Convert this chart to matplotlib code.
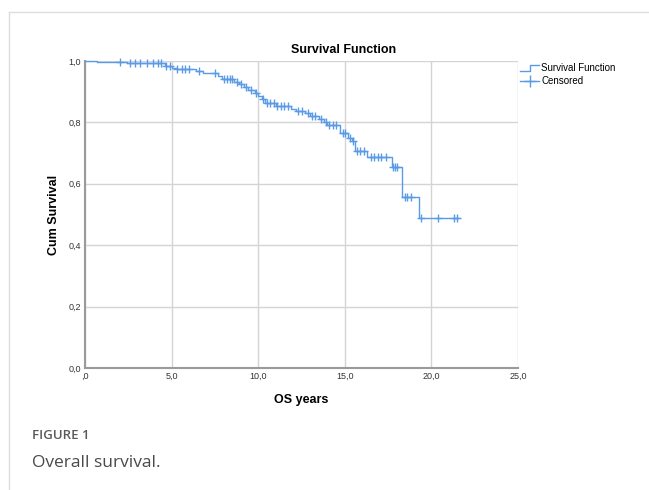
import numpy as np
import matplotlib
matplotlib.use("Agg")
from matplotlib import pyplot as plt
from matplotlib.lines import Line2D

# Kaplan-Meier steps (time in years, survival after the drop)
step_t = [0.0, 0.7, 2.4, 4.6, 5.0, 5.3, 6.4, 6.8, 7.7, 7.9, 8.6, 8.9, 9.2, 9.4,
          9.8, 10.0, 10.2, 10.4, 11.0, 11.9, 12.2, 12.7, 13.0, 13.5, 13.8, 14.0,
          14.7, 15.2, 15.4, 15.6, 16.3, 17.7, 18.3, 19.3]
step_s = [1.0, 0.997, 0.993, 0.985, 0.978, 0.974, 0.967, 0.962, 0.950, 0.941,
          0.933, 0.925, 0.915, 0.905, 0.895, 0.885, 0.875, 0.862, 0.855, 0.845,
          0.838, 0.830, 0.822, 0.812, 0.800, 0.790, 0.765, 0.750, 0.738, 0.708,
          0.688, 0.655, 0.558, 0.487]
last_t = 21.6

# censored observations (years)
cens_t = [2.0, 2.6, 2.9, 3.2, 3.6, 3.9, 4.2, 4.4, 4.7, 4.9, 5.3, 5.6, 5.8, 6.0,
          6.6, 7.5, 8.0, 8.2, 8.4, 8.5, 8.8, 9.0, 9.3, 9.6, 9.9, 10.3, 10.5, 10.7,
          10.9, 11.1, 11.3, 11.5, 11.7, 12.3, 12.5, 12.9, 13.1, 13.3, 13.6, 13.9,
          14.1, 14.3, 14.5, 14.9, 15.0, 15.3, 15.5, 15.7, 15.9, 16.1, 16.5, 16.7,
          16.9, 17.1, 17.4, 17.8, 17.9, 18.0, 18.5, 18.6, 18.8, 19.4, 20.4, 21.3,
          21.5]

x_ticks = [0, 5, 10, 15, 20, 25]
x_labels = [",0", "5,0", "10,0", "15,0", "20,0", "25,0"]
y_ticks = [0, 0.2, 0.4, 0.6, 0.8, 1.0]
y_labels = ["0,0", "0,2", "0,4", "0,6", "0,8", "1,0"]

blue = "#5b9be6"
plt.rcParams["font.family"] = ["Liberation Sans", "DejaVu Sans"]

fig = plt.figure(figsize=(6.49, 4.90), dpi=100)
ax = fig.add_axes([85/649, 1-368/490, (518-85)/649, (368-61)/490])

# survival curve
tt = step_t + [last_t]
ss = step_s + [step_s[-1]]
ax.step(tt, ss, where="post", color=blue, lw=1.0, clip_on=False, zorder=3)

# censored marks sit on the curve
idx = np.searchsorted(step_t, cens_t, side="right") - 1
cens_s = [step_s[i] for i in idx]
ax.plot(cens_t, cens_s, ls="none", marker="+", ms=5.5, mew=1.0, color=blue,
        clip_on=False, zorder=4)

ax.set_xlim(0, 25)
ax.set_ylim(0, 1)
ax.set_xticks(x_ticks)
ax.set_xticklabels(x_labels, fontsize=6.5)
ax.set_yticks(y_ticks)
ax.set_yticklabels(y_labels, fontsize=6.5)
ax.tick_params(length=0, pad=3, colors="#333333")
ax.grid(True, color="#d4d4d4", lw=1.0)
ax.set_axisbelow(True)
for s in ["top", "right"]:
    ax.spines[s].set_visible(False)
for s in ["left", "bottom"]:
    ax.spines[s].set_color("#9a9a9a")
    ax.spines[s].set_linewidth(1.5)

ax.set_xlabel("OS years", fontsize=9, fontweight="bold", labelpad=9)
ax.set_ylabel("Cum Survival", fontsize=9, fontweight="bold", labelpad=6)
fig.text(344/649, 1-50/490, "Survival Function", fontsize=9,
         fontweight="bold", ha="center", va="center")

# legend drawn by hand
lx, ly1, ly2 = 520/649, 1-68/490, 1-81/490
fig.add_artist(Line2D([lx, lx+10/649, lx+10/649, lx+19/649],
                      [ly1-3/490, ly1-3/490, ly1+3/490, ly1+3/490],
                      color=blue, lw=1.0))
fig.add_artist(Line2D([lx, lx+19/649], [ly2, ly2], color=blue, lw=1.0))
fig.add_artist(Line2D([lx+9.5/649], [ly2], marker="+", ms=8, mew=1.0,
                      color=blue, ls="none"))
fig.text(lx+21/649, ly1, "Survival Function", fontsize=7, va="center")
fig.text(lx+21/649, ly2, "Censored", fontsize=7, va="center")

# panel frame (top and left edges)
fig.add_artist(Line2D([9/649, 1], [1-12/490, 1-12/490], color="#dddddd", lw=1.0))
fig.add_artist(Line2D([9/649, 9/649], [0, 1-12/490], color="#dddddd", lw=1.0))

# caption
fig.text(32/649, 1-435/490, "FIGURE 1", fontsize=9.5, color="#5a5a5a",
         fontweight="semibold", family=["Open Sans", "DejaVu Sans"], va="center")
fig.text(32/649, 1-463/490, "Overall survival.", fontsize=12.5, color="#4a4a4a",
         family=["Open Sans", "DejaVu Sans"], va="center")

fig.savefig("out.png", dpi=100)
